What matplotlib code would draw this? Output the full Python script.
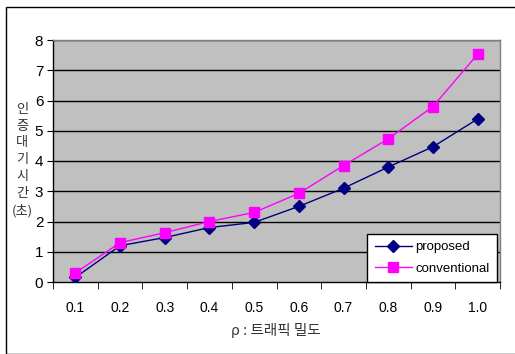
import matplotlib
matplotlib.use("Agg")
import matplotlib.pyplot as plt
from matplotlib.patches import Rectangle
import numpy as np

categories = ["0.1", "0.2", "0.3", "0.4", "0.5", "0.6", "0.7", "0.8", "0.9", "1.0"]
proposed = [0.15, 1.2, 1.47, 1.8, 1.97, 2.5, 3.1, 3.8, 4.47, 5.39]
conventional = [0.3, 1.3, 1.63, 2.0, 2.3, 2.93, 3.85, 4.73, 5.8, 7.53]
yticks = [0, 1, 2, 3, 4, 5, 6, 7, 8]

plt.rcParams['font.family'] = ['Liberation Sans', 'Noto Sans CJK KR', 'DejaVu Sans']

W, H = 515, 354
fig = plt.figure(figsize=(W/100, H/100), dpi=100)
fig.patch.set_facecolor('white')
fig.patches.append(Rectangle((6/W, 0), 1, 1 - 7/H, transform=fig.transFigure,
                             fill=False, edgecolor='black', linewidth=1.0))

ax = fig.add_axes([53/W, 1 - 282/H, (500-53)/W, (282-40)/H])
ax.set_facecolor('#C0C0C0')
x = np.arange(len(categories))
ax.set_xlim(-0.5, len(categories) - 0.5)
ax.set_ylim(0, 8)
for yv in yticks[1:]:
    ax.axhline(yv, color='black', linewidth=1.0, zorder=1)

ax.plot(x, proposed, color='#000080', marker='D', markersize=6, linewidth=1.0,
        label='proposed', zorder=3)
ax.plot(x, conventional, color='#FF00FF', marker='s', markersize=7, linewidth=1.0,
        label='conventional', zorder=3)

ax.set_yticks(yticks)
ax.set_yticklabels([str(v) for v in yticks], fontsize=11)
ax.set_xticks(x)
ax.set_xticklabels(categories, fontsize=10)
ax.tick_params(axis='x', which='major', length=0, pad=14)
ax.set_xticks(np.arange(-0.5, len(categories), 1.0), minor=True)
ax.tick_params(axis='x', which='minor', length=5, direction='out', color='black')
ax.tick_params(axis='y', length=4, direction='out', color='black', pad=3)

ax.spines['left'].set_color('black')
ax.spines['bottom'].set_color('black')
ax.spines['top'].set_color('#808080')
ax.spines['right'].set_color('#808080')
for s in ax.spines.values():
    s.set_linewidth(1.0)

leg = ax.legend(loc='lower right', bbox_to_anchor=((497-53)/(500-53), 0),
                frameon=True, fancybox=False, fontsize=9.5, borderaxespad=0,
                handlelength=2.8, handletextpad=0.3, labelspacing=0.7, borderpad=0.55)
leg.get_frame().set_edgecolor('black')
leg.get_frame().set_facecolor('white')
leg.get_frame().set_linewidth(1.0)
leg.get_frame().set_alpha(1)

fig.text(22/W, 1 - 160/H, "인\n증\n대\n기\n시\n간\n(초)", ha='center', va='center',
         fontsize=9.5, linespacing=1.38, color='#333333',
         family=['Noto Sans CJK KR', 'DejaVu Sans'])
fig.text(276/W, 1 - 330/H, "ρ : 트래픽 밀도", ha='center', va='center',
         fontsize=10.5, color='#333333', family=['Noto Sans CJK KR', 'DejaVu Sans'])

fig.savefig("out.png", dpi=100)
